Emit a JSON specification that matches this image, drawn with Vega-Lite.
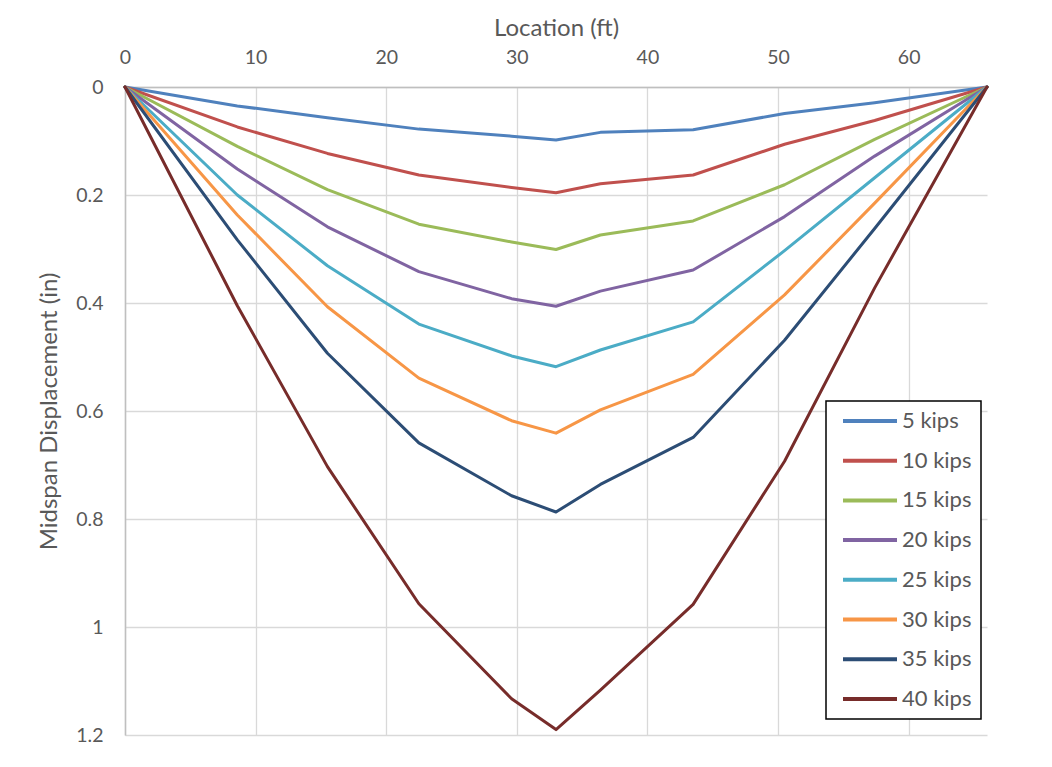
{
  "$schema": "https://vega.github.io/schema/vega-lite/v6.json",
  "width": 862,
  "height": 648,
  "autosize": {"type": "none"},
  "padding": {"left": 125, "top": 87, "right": 65, "bottom": 32},
  "background": "white",
  "config": {
    "font": "Lato",
    "view": {"stroke": null},
    "axis": {
      "grid": true,
      "gridColor": "#D9D9D9",
      "gridWidth": 1.3,
      "ticks": false,
      "domainColor": "#BFBFBF",
      "domainWidth": 1.5,
      "labelFont": "Lato",
      "labelFontSize": 19.5,
      "labelColor": "#595959",
      "labelFlush": false,
      "labelOverlap": false,
      "titleFont": "Lato",
      "titleFontSize": 24,
      "titleFontWeight": "normal",
      "titleColor": "#595959"
    },
    "legend": {"strokeWidth": 1.5}
  },
  "data": {
    "values": [
      {"load": "5 kips", "location": 0, "disp": 0},
      {"load": "5 kips", "location": 8.6, "disp": 0.035},
      {"load": "5 kips", "location": 15.5, "disp": 0.057},
      {"load": "5 kips", "location": 22.5, "disp": 0.078},
      {"load": "5 kips", "location": 29.6, "disp": 0.091},
      {"load": "5 kips", "location": 33, "disp": 0.098},
      {"load": "5 kips", "location": 36.4, "disp": 0.084},
      {"load": "5 kips", "location": 43.5, "disp": 0.079},
      {"load": "5 kips", "location": 50.5, "disp": 0.049},
      {"load": "5 kips", "location": 57.4, "disp": 0.029},
      {"load": "5 kips", "location": 66, "disp": 0},
      {"load": "10 kips", "location": 0, "disp": 0},
      {"load": "10 kips", "location": 8.6, "disp": 0.074},
      {"load": "10 kips", "location": 15.5, "disp": 0.123},
      {"load": "10 kips", "location": 22.5, "disp": 0.163},
      {"load": "10 kips", "location": 29.6, "disp": 0.186},
      {"load": "10 kips", "location": 33, "disp": 0.196},
      {"load": "10 kips", "location": 36.4, "disp": 0.179},
      {"load": "10 kips", "location": 43.5, "disp": 0.163},
      {"load": "10 kips", "location": 50.5, "disp": 0.106},
      {"load": "10 kips", "location": 57.4, "disp": 0.062},
      {"load": "10 kips", "location": 66, "disp": 0},
      {"load": "15 kips", "location": 0, "disp": 0},
      {"load": "15 kips", "location": 8.6, "disp": 0.11},
      {"load": "15 kips", "location": 15.5, "disp": 0.19},
      {"load": "15 kips", "location": 22.5, "disp": 0.254},
      {"load": "15 kips", "location": 29.6, "disp": 0.287},
      {"load": "15 kips", "location": 33, "disp": 0.301},
      {"load": "15 kips", "location": 36.4, "disp": 0.274},
      {"load": "15 kips", "location": 43.5, "disp": 0.248},
      {"load": "15 kips", "location": 50.5, "disp": 0.181},
      {"load": "15 kips", "location": 57.4, "disp": 0.097},
      {"load": "15 kips", "location": 66, "disp": 0},
      {"load": "20 kips", "location": 0, "disp": 0},
      {"load": "20 kips", "location": 8.6, "disp": 0.152},
      {"load": "20 kips", "location": 15.5, "disp": 0.259},
      {"load": "20 kips", "location": 22.5, "disp": 0.342},
      {"load": "20 kips", "location": 29.6, "disp": 0.392},
      {"load": "20 kips", "location": 33, "disp": 0.406},
      {"load": "20 kips", "location": 36.4, "disp": 0.378},
      {"load": "20 kips", "location": 43.5, "disp": 0.339},
      {"load": "20 kips", "location": 50.5, "disp": 0.24},
      {"load": "20 kips", "location": 57.4, "disp": 0.128},
      {"load": "20 kips", "location": 66, "disp": 0},
      {"load": "25 kips", "location": 0, "disp": 0},
      {"load": "25 kips", "location": 8.6, "disp": 0.2},
      {"load": "25 kips", "location": 15.5, "disp": 0.331},
      {"load": "25 kips", "location": 22.5, "disp": 0.439},
      {"load": "25 kips", "location": 29.6, "disp": 0.498},
      {"load": "25 kips", "location": 33, "disp": 0.518},
      {"load": "25 kips", "location": 36.4, "disp": 0.487},
      {"load": "25 kips", "location": 43.5, "disp": 0.435},
      {"load": "25 kips", "location": 50.5, "disp": 0.303},
      {"load": "25 kips", "location": 57.4, "disp": 0.168},
      {"load": "25 kips", "location": 66, "disp": 0},
      {"load": "30 kips", "location": 0, "disp": 0},
      {"load": "30 kips", "location": 8.6, "disp": 0.237},
      {"load": "30 kips", "location": 15.5, "disp": 0.407},
      {"load": "30 kips", "location": 22.5, "disp": 0.539},
      {"load": "30 kips", "location": 29.6, "disp": 0.618},
      {"load": "30 kips", "location": 33, "disp": 0.641},
      {"load": "30 kips", "location": 36.4, "disp": 0.598},
      {"load": "30 kips", "location": 43.5, "disp": 0.532},
      {"load": "30 kips", "location": 50.5, "disp": 0.385},
      {"load": "30 kips", "location": 57.4, "disp": 0.215},
      {"load": "30 kips", "location": 66, "disp": 0},
      {"load": "35 kips", "location": 0, "disp": 0},
      {"load": "35 kips", "location": 8.6, "disp": 0.283},
      {"load": "35 kips", "location": 15.5, "disp": 0.493},
      {"load": "35 kips", "location": 22.5, "disp": 0.659},
      {"load": "35 kips", "location": 29.6, "disp": 0.757},
      {"load": "35 kips", "location": 33, "disp": 0.787},
      {"load": "35 kips", "location": 36.4, "disp": 0.736},
      {"load": "35 kips", "location": 43.5, "disp": 0.649},
      {"load": "35 kips", "location": 50.5, "disp": 0.469},
      {"load": "35 kips", "location": 57.4, "disp": 0.262},
      {"load": "35 kips", "location": 66, "disp": 0},
      {"load": "40 kips", "location": 0, "disp": 0},
      {"load": "40 kips", "location": 8.6, "disp": 0.405},
      {"load": "40 kips", "location": 15.5, "disp": 0.703},
      {"load": "40 kips", "location": 22.5, "disp": 0.957},
      {"load": "40 kips", "location": 29.6, "disp": 1.133},
      {"load": "40 kips", "location": 33, "disp": 1.19},
      {"load": "40 kips", "location": 36.4, "disp": 1.117},
      {"load": "40 kips", "location": 43.5, "disp": 0.958},
      {"load": "40 kips", "location": 50.5, "disp": 0.693},
      {"load": "40 kips", "location": 57.4, "disp": 0.372},
      {"load": "40 kips", "location": 66, "disp": 0}
    ]
  },
  "mark": {"type": "line", "strokeWidth": 3, "strokeJoin": "round", "strokeCap": "round"},
  "encoding": {
    "x": {
      "field": "location",
      "type": "quantitative",
      "scale": {"domain": [0, 66], "nice": false, "zero": false},
      "axis": {
        "orient": "top",
        "title": "Location (ft)",
        "values": [0, 10, 20, 30, 40, 50, 60],
        "labelPadding": 20,
        "titlePadding": 7
      }
    },
    "y": {
      "field": "disp",
      "type": "quantitative",
      "scale": {"domain": [0, 1.2], "nice": false, "reverse": true},
      "axis": {
        "title": "Midspan Displacement (in)",
        "values": [0, 0.2, 0.4, 0.6, 0.8, 1, 1.2],
        "format": "~g",
        "labelPadding": 22,
        "titlePadding": 14
      }
    },
    "color": {
      "field": "load",
      "type": "nominal",
      "scale": {
        "domain": ["5 kips", "10 kips", "15 kips", "20 kips", "25 kips", "30 kips", "35 kips", "40 kips"],
        "range": ["#4F81BD", "#C0504D", "#9BBB59", "#8064A2", "#4BACC6", "#F79646", "#2C4D75", "#772C2A"]
      },
      "legend": {
        "orient": "none",
        "legendX": 701,
        "legendY": 314,
        "title": null,
        "strokeColor": "black",
        "fillColor": "white",
        "padding": 9,
        "symbolType": "stroke",
        "symbolSize": 2916,
        "symbolStrokeWidth": 4,
        "symbolOffset": 6,
        "clipHeight": 22,
        "labelAlign": "left",
        "labelOffset": 3,
        "labelFont": "Lato",
        "labelFontSize": 22,
        "labelColor": "#595959",
        "rowPadding": 17.7
      }
    }
  }
}
